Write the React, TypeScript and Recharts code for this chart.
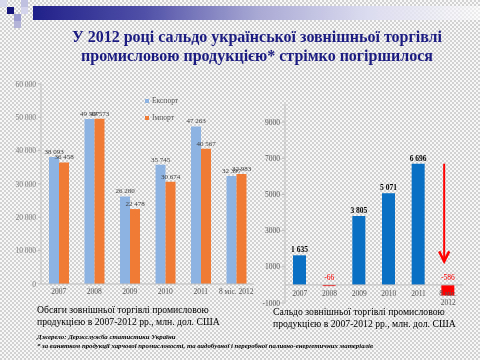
import React from "react";
import { BarChart, Bar, XAxis, YAxis, Cell, LabelList, Legend, ReferenceLine } from "recharts";

const years = ["2007", "2008", "2009", "2010", "2011", "8 міс. 2012"];
const exportVals = [38093, 49507, 26280, 35745, 47263, 32397];
const importVals = [36458, 49573, 22478, 30674, 40567, 32983];
const balanceVals = [1635, -66, 3805, 5071, 6696, -586];
const volumeTicks = [0, 10000, 20000, 30000, 40000, 50000, 60000];
const balanceTicks = [-1000, 1000, 3000, 5000, 7000, 9000];
const seriesNames = ["Експорт", "Імпорт"];

const volumeData = years.map((y, i) => ({ year: y, export: exportVals[i], import: importVals[i] }));
const balanceData = years.map((y, i) => ({ year: y, balance: balanceVals[i] }));

const serif = "'Liberation Serif', 'Times New Roman', serif";
const navy = "#1a1a80";
const blueLight = "#8db3e2";
const orange = "#f07b35";
const blueDark = "#0a70c4";
const red = "#ff0000";
const seriesColors = [blueLight, orange];

// non-breaking space so recharts does not wrap "38 093"
const spaced = (v: number) => String(v).replace(/\B(?=(\d{3})+(?!\d))/g, "\u00a0");

// labels for the balance chart: negatives sit just above the zero line, in red
const BalanceLabel = (props: any) => {
  const { x, y, width, height, value } = props;
  const top = Math.min(y, y + height);
  const neg = value < 0;
  return (
    <text
      x={x + width / 2}
      y={top - (neg ? 5 : 3)}
      textAnchor="middle"
      fontFamily={serif}
      fontSize={7.5}
      fontWeight={neg ? "normal" : "bold"}
      fill={neg ? red : "#000"}
    >
      {spaced(value)}
    </text>
  );
};

const BalanceTick = (props: any) => {
  const { x, y, payload } = props;
  const parts = payload.value === "8 міс. 2012" ? ["8 міс.", "2012"] : [payload.value];
  return (
    <g>
      {parts.map((p: string, i: number) => (
        <text key={i} x={x} y={y - 7 + i * 9} textAnchor="middle" fontFamily={serif} fontSize={7.5} fill="#595959">
          {p}
        </text>
      ))}
    </g>
  );
};

const Arrow = (props: any) => {
  const { x1, y1, x2, y2 } = props;
  const x = (x1 + x2) / 2 - 4;
  return (
    <g>
      <line x1={x} y1={y1} x2={x} y2={y2} stroke={red} strokeWidth={2} />
      <polyline points={`${x - 5},${y2 - 10} ${x},${y2} ${x + 5},${y2 - 10}`} fill="none" stroke={red} strokeWidth={2.5} />
    </g>
  );
};

const VolumeLegend = () => (
  <div style={{ fontFamily: serif, fontSize: 7.5, color: "#595959" }}>
    {seriesNames.map((n, i) => (
      <div key={n} style={{ display: "flex", alignItems: "center", height: 17 }}>
        <span style={{ width: 4, height: 4, background: seriesColors[i], marginRight: 3 }} />
        {n}
      </div>
    ))}
  </div>
);

export default function App() {
  return (
    <div
      style={{
        position: "fixed",
        left: 0,
        top: 0,
        width: 480,
        height: 360,
        overflow: "hidden",
        background: "repeating-conic-gradient(#d2d2d2 0% 25%, #f8f8f8 0% 50%) 0 0 / 4px 4px",
        fontFamily: serif,
      }}
    >
      {/* header decoration */}
      <div style={{ position: "absolute", left: 0, top: 0, width: 7, height: 7, background: "#d8d8ec" }} />
      <div style={{ position: "absolute", left: 7, top: 7, width: 7, height: 7, background: "#14147a" }} />
      <div style={{ position: "absolute", left: 21, top: 0, width: 7, height: 7, background: "#c0c0e0" }} />
      <div style={{ position: "absolute", left: 21, top: 7, width: 7, height: 7, background: "#d4d4ec" }} />
      <div style={{ position: "absolute", left: 14, top: 14, width: 7, height: 7, background: "#9c9cd0" }} />
      <div style={{ position: "absolute", left: 14, top: 21, width: 7, height: 7, background: "#b4b4d8" }} />
      <div
        style={{
          position: "absolute",
          left: 33,
          top: 6,
          width: 447,
          height: 14,
          background: "linear-gradient(to right, #20208a 0%, #5050a8 25%, #a8a8d4 50%, #dcdcf0 75%, rgba(255,255,255,0.6) 100%)",
        }}
      />

      <div
        style={{
          position: "absolute",
          left: 34,
          top: 27,
          width: 446,
          textAlign: "center",
          fontSize: 16,
          lineHeight: "19px",
          fontWeight: "bold",
          color: navy,
        }}
      >
        У 2012 році сальдо української зовнішньої торгівлі
        <br />
        промисловою продукцією* стрімко погіршилося
      </div>

      <div style={{ position: "absolute", left: 0, top: 70 }}>
        <BarChart width={262} height={240} data={volumeData} margin={{ top: 14, right: 8, left: 0, bottom: 0 }} barGap={0}>
          <XAxis
            dataKey="year"
            height={26}
            tickSize={0}
            tickMargin={5}
            interval={0}
            axisLine={{ stroke: "#bfbfbf" }}
            tick={{ fontFamily: serif, fontSize: 7.5, fill: "#595959" }}
          />
          <YAxis
            width={41}
            domain={[0, 60000]}
            ticks={volumeTicks}
            tickFormatter={spaced}
            tickSize={3}
            axisLine={{ stroke: "#bfbfbf" }}
            tickLine={{ stroke: "#bfbfbf" }}
            tick={{ fontFamily: serif, fontSize: 7.5, fill: "#7f7f7f" }}
          />
          <Legend
            layout="vertical"
            verticalAlign="middle"
            align="center"
            content={<VolumeLegend />}
            wrapperStyle={{ left: 145, top: 22, width: 60 }}
          />
          <Bar dataKey="export" name={seriesNames[0]} fill={blueLight} barSize={10} isAnimationActive={false}>
            <LabelList dataKey="export" position="top" offset={3} formatter={spaced} style={{ fontFamily: serif, fontSize: 7, fill: "#404040" }} />
          </Bar>
          <Bar dataKey="import" name={seriesNames[1]} fill={orange} barSize={10} isAnimationActive={false}>
            <LabelList dataKey="import" position="top" offset={3} formatter={spaced} style={{ fontFamily: serif, fontSize: 7, fill: "#404040" }} />
          </Bar>
        </BarChart>
      </div>

      <div style={{ position: "absolute", left: 258, top: 90 }}>
        <BarChart width={222} height={230} data={balanceData} margin={{ top: 14, right: 17, left: 0, bottom: 0 }}>
          <XAxis dataKey="year" height={17} axisLine={false} tickLine={false} tickSize={0} tickMargin={0} interval={0} tick={<BalanceTick />} />
          <YAxis
            width={27}
            domain={[-1000, 10000]}
            ticks={balanceTicks}
            tickSize={3}
            axisLine={{ stroke: "#bfbfbf" }}
            tickLine={{ stroke: "#bfbfbf" }}
            tick={{ fontFamily: serif, fontSize: 7.5, fill: "#595959" }}
          />
          <ReferenceLine y={0} stroke="#bfbfbf" />
          <Bar dataKey="balance" barSize={13} isAnimationActive={false}>
            {balanceVals.map((v, i) => (
              <Cell key={i} fill={v < 0 ? red : blueDark} />
            ))}
            <LabelList dataKey="balance" content={<BalanceLabel />} />
          </Bar>
          <ReferenceLine
            segment={[
              { x: "8 міс. 2012", y: 6700 },
              { x: "8 міс. 2012", y: 1300 },
            ]}
            shape={<Arrow />}
          />
        </BarChart>
      </div>

      <div style={{ position: "absolute", left: 37, top: 304, fontSize: 9.7, lineHeight: "12px", color: "#000" }}>
        Обсяги зовнішньої торгівлі промисловою
        <br />
        продукцією в 2007-2012 рр., млн. дол. США
      </div>
      <div style={{ position: "absolute", left: 273, top: 306, fontSize: 9.7, lineHeight: "12px", color: "#000" }}>
        Сальдо зовнішньої торгівлі промисловою
        <br />
        продукцією в 2007-2012 рр., млн. дол. США
      </div>
      <div
        style={{
          position: "absolute",
          left: 37,
          top: 332,
          fontSize: 6.8,
          lineHeight: "9px",
          fontStyle: "italic",
          fontWeight: "bold",
          color: "#000",
          whiteSpace: "nowrap",
        }}
      >
        Джерело: Держслужба статистики України
        <br />* за винятком продукції харчової промисловості, та видобувної і переробної паливно-енергетичних матеріалів
      </div>
    </div>
  );
}
